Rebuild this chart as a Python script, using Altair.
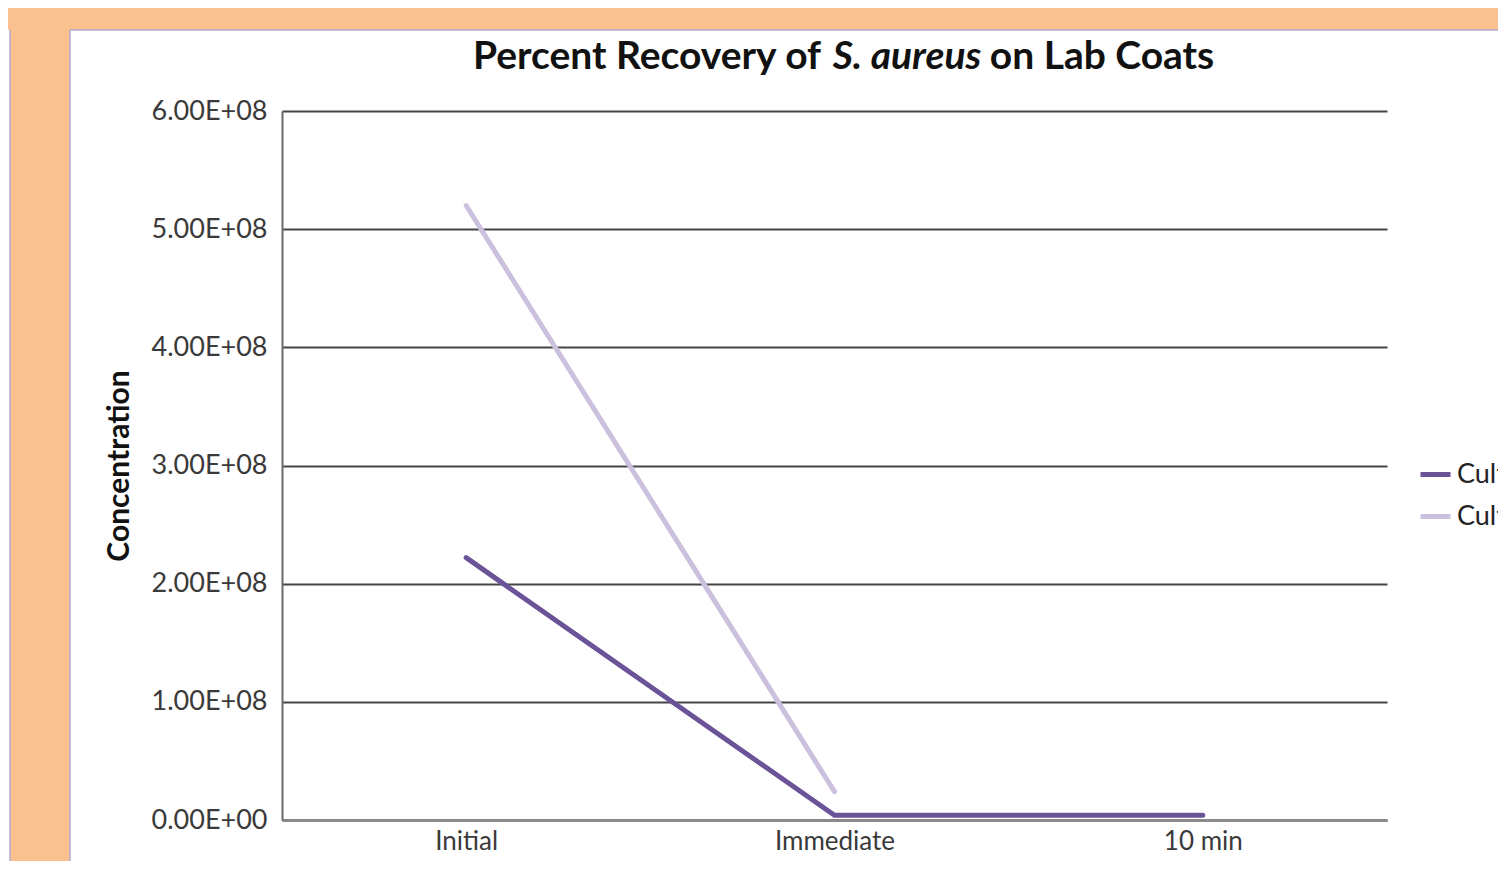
import altair as alt
import pandas as pd

categories = ["Initial", "Immediate", "10 min"]
series_names = ["Culture 1", "Culture 2"]
culture1_values = [2.22e8, 4.0e6, 4.0e6]
culture2_values = [5.2e8, 2.4e7, None]
y_ticks = [0, 1e8, 2e8, 3e8, 4e8, 5e8, 6e8]
title_parts = ["Percent Recovery of", "S. aureus", "on Lab Coats"]

rows = []
for cat, v in zip(categories, culture1_values):
    rows.append({"Time": cat, "Series": series_names[0], "Concentration": v})
for cat, v in zip(categories, culture2_values):
    if v is not None:
        rows.append({"Time": cat, "Series": series_names[1], "Concentration": v})
df = pd.DataFrame(rows)

one = pd.DataFrame({"k": [0]})
ORANGE = "#F9C190"
BORDER = "#B3ABCB"
W, H = 1105, 709
PAD = {"left": 274, "top": 103, "right": 111, "bottom": 41}

# decorative page background pieces
top_band = alt.Chart(one).mark_rect(color=ORANGE).encode(
    x=alt.value(-274), x2=alt.value(1300), y=alt.value(-103), y2=alt.value(-81))
left_strip = alt.Chart(one).mark_rect(color=ORANGE).encode(
    x=alt.value(-272), x2=alt.value(-212), y=alt.value(-81), y2=alt.value(800))
border_h = alt.Chart(one).mark_rule(color=BORDER, strokeWidth=1.5).encode(
    x=alt.value(-212), x2=alt.value(1300), y=alt.value(-81))
border_v = alt.Chart(one).mark_rule(color=BORDER, strokeWidth=1.5).encode(
    x=alt.value(-212), y=alt.value(-81), y2=alt.value(800))
border_v2 = alt.Chart(one).mark_rule(color=BORDER, strokeWidth=1.5).encode(
    x=alt.value(-272), y=alt.value(-81), y2=alt.value(800))

label_expr = "replace(upper(format(datum.value, '.2e')), 'E+', 'E+0')"

lines = alt.Chart(df).mark_line(strokeWidth=5, strokeCap="round").encode(
    x=alt.X("Time:N", sort=categories,
            scale=alt.Scale(type="point", padding=0.5),
            axis=alt.Axis(title=None, labelFont="Lato", labelFontSize=26,
                          labelColor="#3a3a3a", labelPadding=8, ticks=False,
                          domainColor="#8A8A8A", domainWidth=3, grid=False,
                          labelAngle=0)),
    y=alt.Y("Concentration:Q",
            scale=alt.Scale(domain=[0, 6e8], nice=False),
            axis=alt.Axis(values=y_ticks, labelExpr=label_expr,
                          title="Concentration", titleFont="Lato",
                          titleFontSize=30, titleFontWeight="bold",
                          titleColor="#111111", titlePadding=17,
                          labelFont="Lato", labelFontSize=27,
                          labelColor="#3a3a3a", labelPadding=15, ticks=False,
                          domainColor="#6A6A6A", domainWidth=2,
                          grid=True, gridColor="#454545", gridWidth=2)),
    color=alt.Color("Series:N", sort=series_names,
                    scale=alt.Scale(domain=series_names,
                                    range=["#6A5396", "#CBC0DE"]),
                    legend=alt.Legend(title=None, orient="none",
                                      legendX=1136, legendY=346,
                                      symbolType="stroke", symbolSize=900,
                                      symbolStrokeWidth=5,
                                      labelFont="Lato", labelFontSize=27,
                                      labelColor="#222222", rowPadding=11,
                                      labelOffset=4, labelLimit=400)),
)

def title_piece(text, xpos, italic=False):
    kw = dict(text=text, font="Lato", fontSize=39, fontWeight="bold",
              align="center", baseline="alphabetic", color="#111111")
    if italic:
        kw["fontStyle"] = "italic"
    return alt.Chart(one).mark_text(**kw).encode(x=alt.value(xpos), y=alt.value(-42))

t1 = title_piece(title_parts[0], 365)
t2 = title_piece(title_parts[1], 625, italic=True)
t3 = title_piece(title_parts[2], 820)

chart = alt.layer(top_band, left_strip, border_h, border_v, border_v2,
                  lines, t1, t2, t3).properties(
    width=W, height=H,
    autosize=alt.AutoSizeParams(type="none"),
    padding=PAD,
    background="white",
).configure_view(stroke=None)

chart.save("out.html", embed_options={"renderer": "svg", "actions": False})
